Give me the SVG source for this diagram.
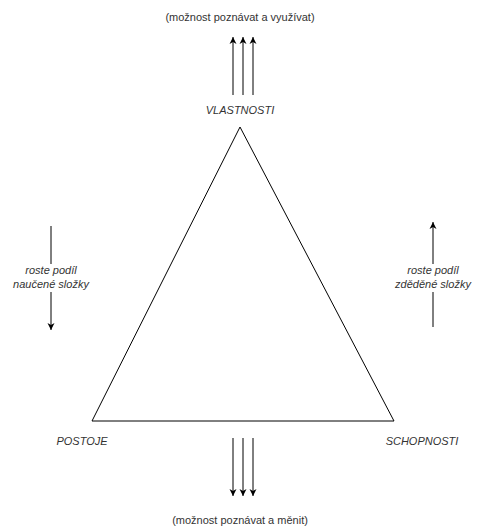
<svg xmlns="http://www.w3.org/2000/svg" width="477" height="529" viewBox="0 0 477 529">
<defs>
<marker id="ah" markerWidth="8" markerHeight="8" refX="7" refY="4" orient="auto" markerUnits="userSpaceOnUse">
<path d="M0,0.5 L7,4 L0,7.5 L2,4 Z" fill="#000"/>
</marker>
</defs>
<style>
text{font-family:"Liberation Sans",Arial,sans-serif;font-size:11px;fill:#333;text-anchor:middle}
.it{font-style:italic}
.ln{stroke:#000;stroke-width:1;fill:none}
</style>
<rect width="477" height="529" fill="#fff"/>
<g id="triangle"><polygon points="240,127 92,421 394,421" fill="#fff" stroke="#000" stroke-width="1"/></g>
<g id="vlastnosti"><text class="it" x="240" y="114">VLASTNOSTI</text></g>
<g id="postoje"><text class="it" x="82" y="445">POSTOJE</text></g>
<g id="schopnosti"><text class="it" x="422" y="445">SCHOPNOSTI</text></g>
<g id="top-label"><text x="240" y="21">(možnost poznávat a využívat)</text></g>
<g id="bottom-label"><text x="240" y="524">(možnost poznávat a měnit)</text></g>
<g id="left-label"><text class="it" x="51" y="274">roste podíl</text><text class="it" x="51" y="288">naučené složky</text></g>
<g id="right-label"><text class="it" x="433" y="274">roste podíl</text><text class="it" x="433" y="288">zděděné složky</text></g>
<g id="connectors">
<line class="ln" x1="233" y1="95" x2="233" y2="37" marker-end="url(#ah)"/>
<line class="ln" x1="243" y1="95" x2="243" y2="37" marker-end="url(#ah)"/>
<line class="ln" x1="253" y1="95" x2="253" y2="37" marker-end="url(#ah)"/>
<line class="ln" x1="233" y1="438" x2="233" y2="496" marker-end="url(#ah)"/>
<line class="ln" x1="243" y1="438" x2="243" y2="496" marker-end="url(#ah)"/>
<line class="ln" x1="253" y1="438" x2="253" y2="496" marker-end="url(#ah)"/>
<line class="ln" x1="51" y1="226" x2="51" y2="264"/>
<line class="ln" x1="51" y1="292" x2="51" y2="330" marker-end="url(#ah)"/>
<line class="ln" x1="433" y1="327" x2="433" y2="292"/>
<line class="ln" x1="433" y1="264" x2="433" y2="222" marker-end="url(#ah)"/>
</g>
</svg>
